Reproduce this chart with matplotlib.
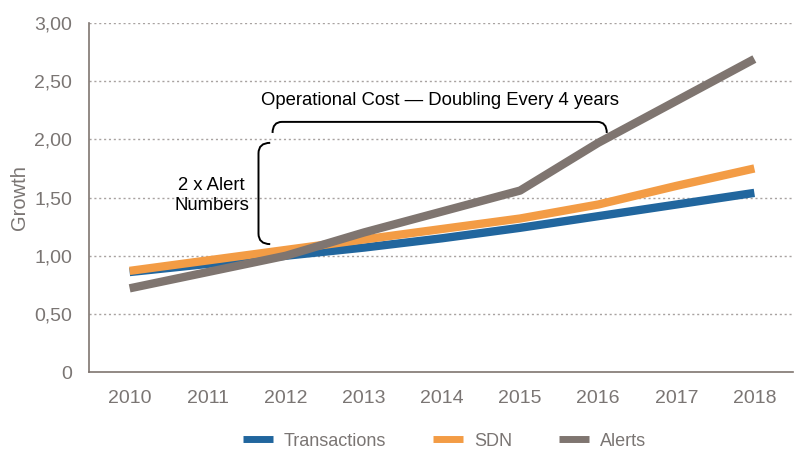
import numpy as np
import matplotlib
matplotlib.use('Agg')
import matplotlib.pyplot as plt
from matplotlib.path import Path
from matplotlib.patches import PathPatch
from matplotlib.lines import Line2D

years = [2010, 2011, 2012, 2013, 2014, 2015, 2016, 2017, 2018]
transactions = [0.86, 0.93, 1.00, 1.07, 1.15, 1.24, 1.34, 1.44, 1.54]
sdn = [0.87, 0.96, 1.05, 1.14, 1.23, 1.32, 1.44, 1.60, 1.75]
alerts = [0.72, 0.86, 1.00, 1.20, 1.38, 1.56, 1.97, 2.33, 2.69]
series_names = ['Transactions', 'SDN', 'Alerts']
colors = ['#21669e', '#f39c45', '#7f7570']
y_ticks = [0, 0.5, 1.0, 1.5, 2.0, 2.5, 3.0]
y_labels = ['0', '0,50', '1,00', '1,50', '2,00', '2,50', '3,00']

plt.rcParams['font.family'] = ['Liberation Sans', 'DejaVu Sans']
GREY = '#7a7573'

def brace_path(x0, x1, y_end, y_top, rx, ry, horizontal=True):
    # rounded square bracket: ends at y_end, flat part at y_top
    if horizontal:
        verts = [(x0, y_end), (x0, y_top), (x0 + rx, y_top),
                 (x1 - rx, y_top),
                 (x1, y_top), (x1, y_end)]
    else:
        # here x0/x1 are y limits, y_end/y_top are x positions
        verts = [(y_end, x0), (y_top, x0), (y_top, x0 + ry),
                 (y_top, x1 - ry),
                 (y_top, x1), (y_end, x1)]
    codes = [Path.MOVETO, Path.CURVE3, Path.CURVE3,
             Path.LINETO, Path.CURVE3, Path.CURVE3]
    return Path(verts, codes)

fig = plt.figure(figsize=(7.95, 4.5), dpi=100)
ax = fig.add_axes([0.112, 0.173, 0.886, 0.776])

for vals, name, c in zip([transactions, sdn, alerts], series_names, colors):
    ax.plot(years, vals, color=c, lw=6, solid_capstyle='butt', label=name)

ax.set_xlim(2009.48, 2018.5)
ax.set_ylim(0, 3.0)
ax.set_xticks(years)
ax.set_xticklabels([str(y) for y in years])
ax.set_yticks(y_ticks)
ax.set_yticklabels(y_labels)
ax.tick_params(length=0, labelsize=14, colors=GREY, pad=12)
ax.tick_params(axis='x', pad=13)
for t in y_ticks[1:]:
    ax.axhline(t, color='#a8a2a0', lw=1, ls=(0, (1.5, 2)), zorder=0)
for s in ['top', 'right']:
    ax.spines[s].set_visible(False)
for s in ['left', 'bottom']:
    ax.spines[s].set_color('#7f7570')
    ax.spines[s].set_linewidth(1.2)
ax.set_ylabel('Growth', color=GREY, fontsize=14.5, labelpad=4)

# annotations
hb = brace_path(2011.83, 2016.11, 2.055, 2.15, 0.12, 0, horizontal=True)
ax.add_patch(PathPatch(hb, fill=False, lw=1.4, color='black'))
ax.text(2013.97, 2.33, 'Operational Cost \u2014 Doubling Every 4 years',
        ha='center', va='center', fontsize=13.3)
vb = brace_path(1.10, 1.97, 2011.80, 2011.65, 0, 0.09, horizontal=False)
ax.add_patch(PathPatch(vb, fill=False, lw=1.4, color='black'))
ax.text(2011.05, 1.52, '2 x Alert\nNumbers', ha='center', va='center',
        fontsize=13.3, linespacing=1.25)

handles = [Line2D([0], [0], color=c, lw=5, solid_capstyle='butt') for c in colors]
leg = fig.legend(handles, series_names, loc='center', bbox_to_anchor=(0.559, 0.02),
                 ncol=3, frameon=False, fontsize=13, handlelength=1.65,
                 columnspacing=2.6, handletextpad=0.6)
for t in leg.get_texts():
    t.set_color(GREY)

fig.savefig('out.png', dpi=100)
